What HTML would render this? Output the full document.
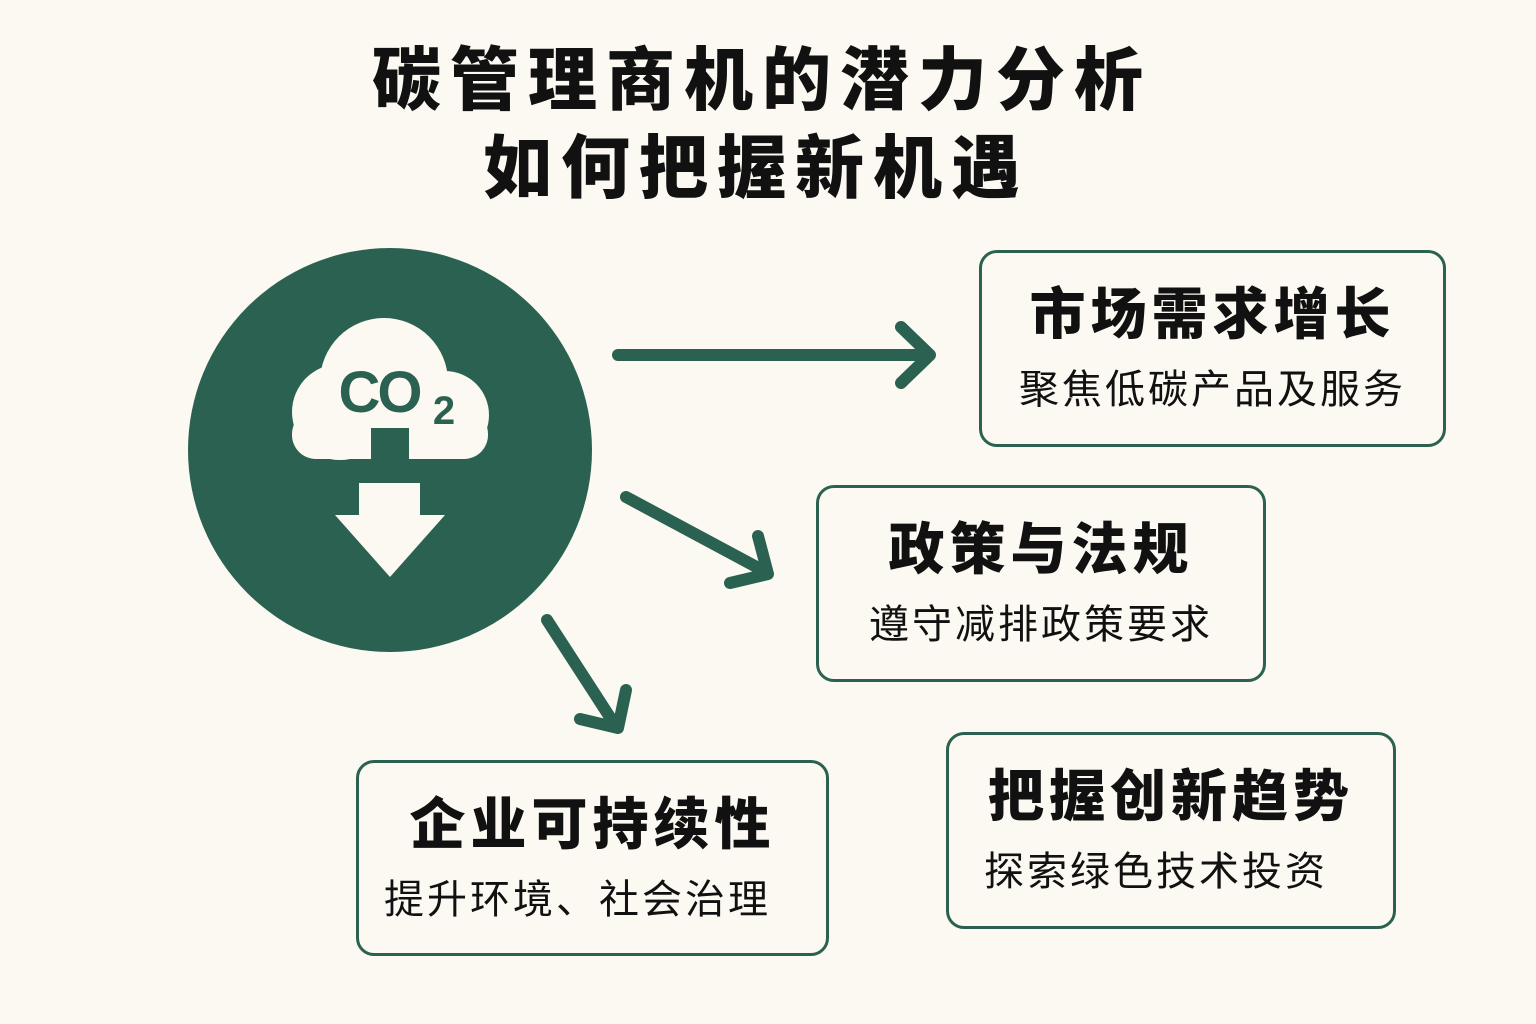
<!DOCTYPE html>
<html><head><meta charset="utf-8"><style>
body{margin:0;width:1536px;height:1024px;background:#fbf9f1;position:relative;overflow:hidden;font-family:"Liberation Sans","Noto Sans CJK SC",sans-serif;color:#111}
.t{position:absolute;left:0;width:1536px;text-align:center;font-weight:900;font-size:69px;line-height:1;color:#111;letter-spacing:9px}
.b{position:absolute;border:3px solid #2b6151;border-radius:18px;box-sizing:border-box;background:#fbf9f1;text-align:center}
.b h{display:block;font-weight:900;font-size:56px;line-height:1;margin-top:34px;letter-spacing:5px}
.b p{margin:27px 0 0;font-size:40px;line-height:1;letter-spacing:3px}
</style></head><body>
<div class="t" style="top:46px;left:-6px">碳管理商机的潜力分析</div>
<div class="t" style="top:134px;left:-12px">如何把握新机遇</div>
<svg width="1536" height="1024" style="position:absolute;left:0;top:0">
<circle cx="390" cy="450" r="202" fill="#2b6151"/>
<g fill="#fbf9f1">
<circle cx="384" cy="382" r="64"/>
<circle cx="340" cy="412" r="48"/>
<circle cx="445" cy="415" r="44"/>
<rect x="292" y="410" width="196" height="49" rx="24"/>
<rect x="359" y="483" width="61" height="34"/>
<polygon points="335,515 445,515 390,577"/>
</g>
<rect x="371" y="428" width="38" height="32" fill="#2b6151"/>
<text x="379" y="412" font-family="Liberation Sans" font-weight="bold" font-size="58" fill="#2b6151" text-anchor="middle" letter-spacing="-3">CO</text>
<text x="444" y="424" font-family="Liberation Sans" font-weight="bold" font-size="40" fill="#2b6151" text-anchor="middle">2</text>
<g stroke="#2b6151" stroke-width="12" stroke-linecap="round" stroke-linejoin="round" fill="none">
<line x1="618" y1="355" x2="928" y2="355"/><polyline points="901,327 930,355 901,383"/>
<line x1="626" y1="497" x2="766" y2="572"/><polyline points="758,536 768,574 730,583"/>
<line x1="547" y1="620" x2="615" y2="725"/><polyline points="626,690 618,728 580,719"/>
</g>
</svg>
<div class="b" style="left:979px;top:250px;width:467px;height:197px"><h>市场需求增长</h><p>聚焦低碳产品及服务</p></div>
<div class="b" style="left:816px;top:485px;width:450px;height:197px"><h>政策与法规</h><p>遵守减排政策要求</p></div>
<div class="b" style="left:356px;top:760px;width:473px;height:196px"><h>企业可持续性</h><p style="margin-left:-30px">提升环境、社会治理</p></div>
<div class="b" style="left:946px;top:732px;width:450px;height:197px"><h>把握创新趋势</h><p style="margin-left:-30px">探索绿色技术投资</p></div>
</body></html>
